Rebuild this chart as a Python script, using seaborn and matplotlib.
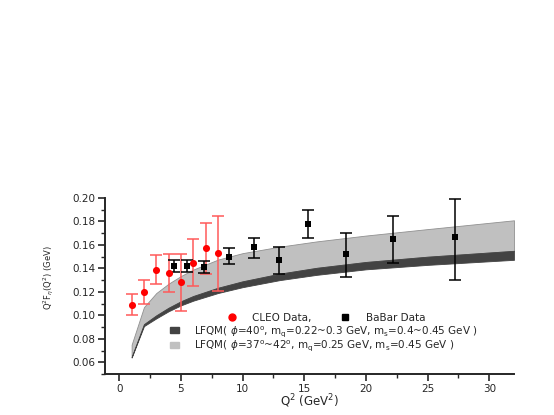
import numpy as np
import pandas as pd
import matplotlib
matplotlib.use('Agg')
import matplotlib.pyplot as plt
from matplotlib.lines import Line2D
from matplotlib.patches import Patch
import seaborn as sns

### Data
cleo_q2 = [1, 2, 3, 4, 5, 6, 7, 8]
cleo_f = [0.109, 0.120, 0.139, 0.136, 0.128, 0.145, 0.157, 0.153]
cleo_lo = [0.100, 0.110, 0.127, 0.120, 0.104, 0.125, 0.135, 0.121]
cleo_hi = [0.118, 0.130, 0.151, 0.152, 0.152, 0.165, 0.179, 0.185]

babar_q2 = [4.45, 5.47, 6.87, 8.87, 10.89, 12.92, 15.33, 18.35, 22.15, 27.2]
babar_f = [0.142, 0.142, 0.141, 0.150, 0.158, 0.147, 0.178, 0.152, 0.165, 0.167]
babar_lo = [0.137, 0.137, 0.136, 0.144, 0.149, 0.135, 0.166, 0.133, 0.145, 0.130]
babar_hi = [0.147, 0.147, 0.146, 0.157, 0.166, 0.158, 0.190, 0.170, 0.185, 0.199]

band_q2 = [1, 2, 3, 4, 5, 6, 8, 10, 13, 16, 20, 25, 32]
light_hi = [0.075, 0.107, 0.119, 0.127, 0.1335, 0.139, 0.1475, 0.153, 0.1585, 0.163, 0.168, 0.1735, 0.181]
dark_hi = [0.0645, 0.0925, 0.100, 0.1065, 0.112, 0.1165, 0.1235, 0.129, 0.1355, 0.1405, 0.1455, 0.150, 0.155]
dark_lo = [0.064, 0.0908, 0.0974, 0.1035, 0.1085, 0.1125, 0.119, 0.124, 0.130, 0.1345, 0.1392, 0.143, 0.1473]

cleo = pd.DataFrame({'q2': cleo_q2, 'f': cleo_f, 'lo': cleo_lo, 'hi': cleo_hi})
babar = pd.DataFrame({'q2': babar_q2, 'f': babar_f, 'lo': babar_lo, 'hi': babar_hi})

sns.set_style('ticks')
plt.rcParams['font.family'] = ['DejaVu Sans']
plt.rcParams['mathtext.fontset'] = 'dejavusans'

fig = plt.figure(figsize=(5.54, 4.15), dpi=100)
ax = fig.add_axes([0.1895, 0.0988, 0.7383, 0.4241])

# theory bands
ax.fill_between(band_q2, dark_hi, light_hi, color='#c0c0c0', edgecolor='#909090', lw=0.6, zorder=1)
ax.fill_between(band_q2, dark_lo, dark_hi, color='#434343', edgecolor='#434343', lw=0.6, zorder=2)

# error bars
ax.errorbar(cleo['q2'], cleo['f'],
            yerr=[cleo['f'] - cleo['lo'], cleo['hi'] - cleo['f']],
            fmt='none', ecolor='#ff5a5a', elinewidth=1.1, capsize=4, capthick=1.1, zorder=3)
ax.errorbar(babar['q2'], babar['f'],
            yerr=[babar['f'] - babar['lo'], babar['hi'] - babar['f']],
            fmt='none', ecolor='black', elinewidth=1.1, capsize=4, capthick=1.1, zorder=3)
sns.scatterplot(data=babar, x='q2', y='f', marker='s', s=22, color='black',
                edgecolor='black', linewidth=0, ax=ax, zorder=4)
sns.scatterplot(data=cleo, x='q2', y='f', marker='o', s=26, color='#ff0000',
                edgecolor='#ff0000', linewidth=0, ax=ax, zorder=5)

ax.set_xlim(-1.16, 32)
ax.set_ylim(0.05, 0.20)
ax.set_xticks(np.arange(0, 31, 5))
ax.set_xticks(np.arange(2.5, 32, 5), minor=True)
ax.set_yticks(np.arange(0.06, 0.201, 0.02))
ax.set_yticks(np.arange(0.05, 0.201, 0.01), minor=True)
ax.yaxis.set_major_formatter(matplotlib.ticker.FormatStrFormatter('%.2f'))
ax.tick_params(which='major', direction='out', length=5, width=1.2, labelsize=7.5, pad=2)
ax.tick_params(which='minor', direction='out', length=3, width=1.0)
for s in ['left', 'bottom']:
    ax.spines[s].set_linewidth(1.4)
sns.despine(ax=ax)

ax.set_xlabel(r'Q$^2$ (GeV$^2$)', fontsize=8.5)
ax.set_ylabel(r'Q$^2$F$_\eta$(Q$^2$) (GeV)', fontsize=6)
ax.xaxis.set_label_coords(0.5, -0.105)
ax.yaxis.set_label_coords(-0.12, 0.545)

# legends
h1 = [Line2D([], [], ls='none', marker='o', ms=5, color='#ff0000', label='CLEO Data,'),
      Line2D([], [], ls='none', marker='s', ms=4.5, color='black', label='BaBar Data')]
leg1 = ax.legend(handles=h1, ncol=2, frameon=False, fontsize=7.5,
                 handlelength=1.5, handletextpad=1.2, columnspacing=2.5,
                 loc='center left', bbox_to_anchor=(224 / 554, 1 - 318 / 415),
                 bbox_transform=fig.transFigure, borderpad=0, borderaxespad=0)
ax.add_artist(leg1)
h2 = [Patch(facecolor='#434343', edgecolor='#434343',
            label=r'LFQM( $\phi$=40$^\mathrm{o}$, m$_\mathrm{q}$=0.22~0.3 GeV, m$_\mathrm{s}$=0.4~0.45 GeV )'),
      Patch(facecolor='#c0c0c0', edgecolor='#c0c0c0',
            label=r'LFQM( $\phi$=37$^\mathrm{o}$~42$^\mathrm{o}$, m$_\mathrm{q}$=0.25 GeV, m$_\mathrm{s}$=0.45 GeV )')]
ax.legend(handles=h2, frameon=False, fontsize=7.5, handlelength=0.9, handleheight=0.6,
          handletextpad=1.4, labelspacing=0.0,
          loc='center left', bbox_to_anchor=(170 / 554, 1 - 338.5 / 415),
          bbox_transform=fig.transFigure, borderpad=0, borderaxespad=0)

fig.savefig('out.png', dpi=100)
